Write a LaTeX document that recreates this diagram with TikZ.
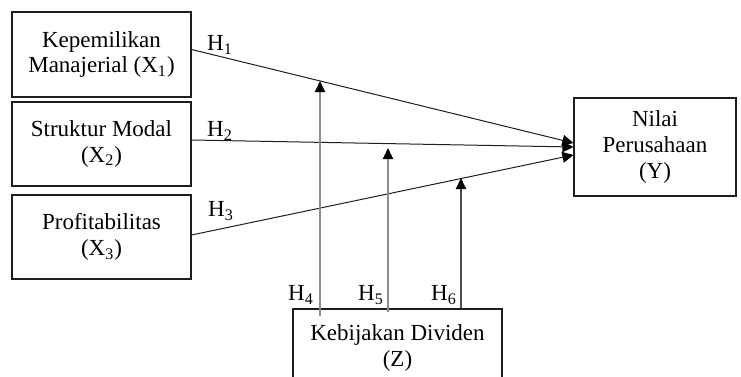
\documentclass[tikz,border=0pt]{standalone}
\usepackage{fontspec}
\setmainfont{Liberation Serif}
\usetikzlibrary{arrows.meta, positioning, calc}
\definecolor{lineDark}{HTML}{1E1E1E}
\definecolor{lineGray}{HTML}{8E8E8E}
\tikzset{
  varBox/.style={rectangle, draw=lineDark, line width=0.6pt, align=center,
                 font=\fontsize{11.5}{12.8}\selectfont, inner sep=2pt},
  arrowK/.style={-{Triangle[length=5.5pt, width=5.5pt, color=black]}, lineDark, line width=0.5pt},
  arrowM/.style={-{Triangle[length=5.5pt, width=5pt, color=black]}, lineGray, line width=0.9pt},
  hLabel/.style={font=\fontsize{11.5}{12}\selectfont, inner sep=0pt},
}
\begin{document}
\begin{tikzpicture}[x=0.5pt, y=-0.5pt]
  \useasboundingbox (0,0) rectangle (741,376);
  \clip (0,0) rectangle (741,376);
  % variabel
  \node[varBox, minimum width=89.5pt, minimum height=42.5pt] (x1) at (101.5,54.5)
    {Kepemilikan\\Manajerial (X\textsubscript{1})};
  \node[varBox, minimum width=89.5pt, minimum height=42pt] (x2) at (101.5,144)
    {Struktur Modal\\(X\textsubscript{2})};
  \node[varBox, minimum width=89.5pt, minimum height=42pt] (x3) at (101.5,237)
    {Profitabilitas\\(X\textsubscript{3})};
  \node[varBox, minimum width=81pt, minimum height=49pt] (y) at (655,147)
    {Nilai\\Perusahaan\\(Y)};
  \node[varBox, minimum width=104.5pt, minimum height=39pt] (z) at (397.5,348)
    {Kebijakan Dividen\\(Z)};
  % titik moderasi
  \coordinate (m1) at (320,81);
  \coordinate (m2) at (388,148);
  \coordinate (m3) at (461,178);
  % pengaruh langsung
  \draw[arrowK] ($(x1.east)+(0,-5)$) -- ($(y.west)+(0,-4)$);
  \draw[arrowK] ($(x2.east)+(0,-4)$) -- (y.west);
  \draw[arrowK] ($(x3.east)+(0,-2)$) -- ($(y.west)+(0,8)$);
  % moderasi
  \draw[arrowM] ($(z.north -| m1)+(0,8)$) -- (m1);
  \draw[arrowM] ($(z.north -| m2)+(0,4)$) -- (m2);
  \draw[arrowM, lineDark!80] (z.north -| m3) -- (m3);
  % hipotesis
  \node[hLabel] (h1) at (220,45) {H\textsubscript{1}};
  \node[hLabel] (h2) at (220,131) {H\textsubscript{2}};
  \node[hLabel] (h3) at (221,211) {H\textsubscript{3}};
  \node[hLabel] (h4) at (301,295) {H\textsubscript{4}};
  \node[hLabel] (h5) at (371,295) {H\textsubscript{5}};
  \node[hLabel] (h6) at (444,295) {H\textsubscript{6}};
\end{tikzpicture}
\end{document}
